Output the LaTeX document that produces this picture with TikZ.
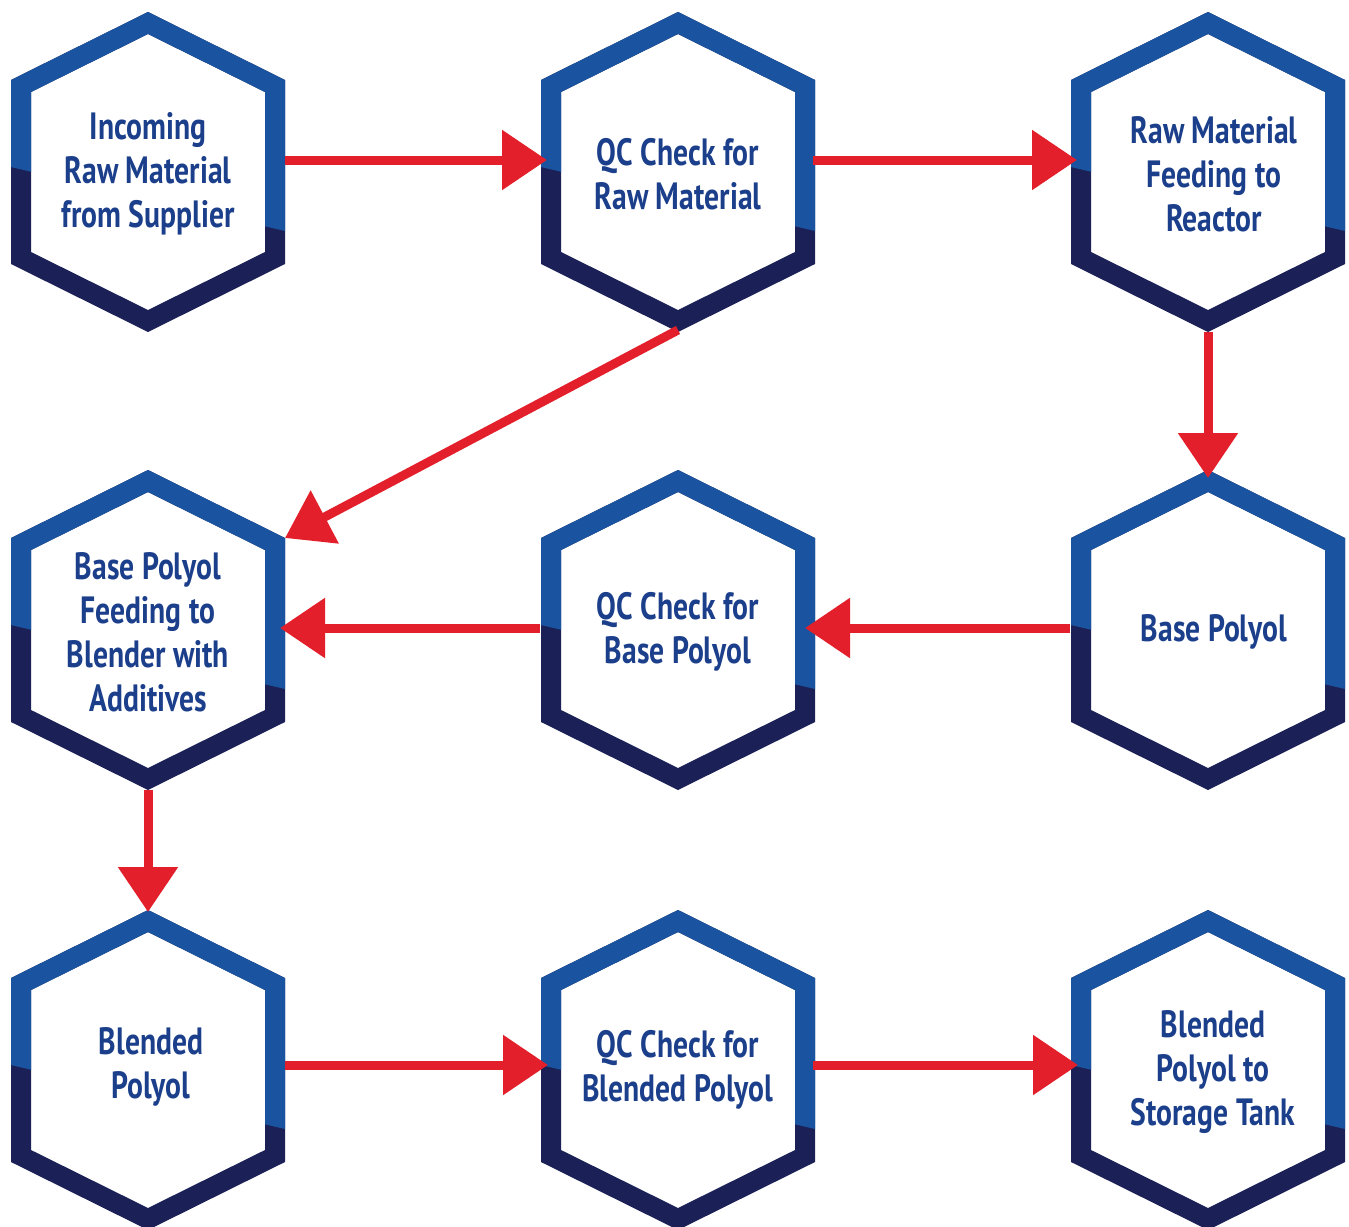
\documentclass[tikz,border=0pt]{standalone}
\usepackage{fontspec}
\usetikzlibrary{arrows.meta,calc}
\newfontfamily\lab[FakeStretch=0.78]{PT Sans}
\definecolor{hexblue}{HTML}{1A54A0}
\definecolor{hexnavy}{HTML}{1B2157}
\definecolor{txtblue}{HTML}{1B3F8B}
\definecolor{arrred}{HTML}{E21F2B}
\newcommand\drawhexagon[2]{%
  \fill[hexnavy,even odd rule]
    (#1,#2-160) -- (#1+137,#2-92) -- (#1+137,#2+92) -- (#1,#2+160) -- (#1-137,#2+92) -- (#1-137,#2-92) -- cycle
    (#1,#2-138) -- (#1+117,#2-80) -- (#1+117,#2+80) -- (#1,#2+138) -- (#1-117,#2+80) -- (#1-117,#2-80) -- cycle;
  \begin{scope}
    \clip (#1-150,#2-175) -- (#1+150,#2-175) -- (#1+150,#2+62) -- (#1-150,#2-8) -- cycle;
    \fill[hexblue,even odd rule]
      (#1,#2-160) -- (#1+137,#2-92) -- (#1+137,#2+92) -- (#1,#2+160) -- (#1-137,#2+92) -- (#1-137,#2-92) -- cycle
      (#1,#2-138) -- (#1+117,#2-80) -- (#1+117,#2+80) -- (#1,#2+138) -- (#1-117,#2+80) -- (#1-117,#2-80) -- cycle;
  \end{scope}
}
\tikzset{
  lbl/.style={align=center,text=txtblue,font=\lab\bfseries\fontsize{38}{44}\selectfont,inner sep=0pt},
  arr/.style={draw=arrred,line width=9pt,-{Triangle[length=45pt,width=58pt]}}
}
\begin{document}
\begin{tikzpicture}[x=1pt,y=-1pt]
\useasboundingbox[fill=white] (0,0) rectangle (1349,1226);
\drawhexagon{148}{172}
\drawhexagon{678}{172}
\drawhexagon{1208}{172}
\drawhexagon{148}{630}
\drawhexagon{678}{630}
\drawhexagon{1208}{630}
\drawhexagon{148}{1070}
\drawhexagon{678}{1070}
\drawhexagon{1208}{1070}
\node[lbl] (h1) at (148,174) {Incoming\\Raw Material\\from Supplier};
\node[lbl] (h2) at (678,174) {QC Check for\\Raw Material};
\node[lbl] (h3) at (1214,174) {Raw Material\\Feeding to\\Reactor};
\node[lbl] (h4) at (148,632) {Base Polyol\\Feeding to\\Blender with\\Additives};
\node[lbl] (h5) at (678,632) {QC Check for\\Base Polyol};
\node[lbl] (h6) at (1214,632) {Base Polyol};
\node[lbl] (h7) at (151,1067) {Blended\\Polyol};
\node[lbl] (h8) at (678,1070) {QC Check for\\Blended Polyol};
\node[lbl] (h9) at (1213,1072) {Blended\\Polyol to\\Storage Tank};
\draw[arr] ($(h1)+(137,-14)$) -- ($(h2)+(-131,-14)$);
\draw[arr] ($(h2)+(135,-14)$) -- ($(h3)+(-137,-14)$);
\draw[arr] ($(h3)+(-6,158)$) -- ($(h6)+(-6,-154)$);
\draw[arr] ($(h2)+(0,156)$) -- ($(h4)+(137,-94)$);
\draw[arr] ($(h6)+(-144,-4)$) -- ($(h5)+(127,-4)$);
\draw[arr] ($(h5)+(-138,-4)$) -- ($(h4)+(132,-4)$);
\draw[arr] ($(h4)+(0,158)$) -- ($(h7)+(-3,-155)$);
\draw[arr] ($(h7)+(134,-2)$) -- ($(h8)+(-130,-5)$);
\draw[arr] ($(h8)+(135,-5)$) -- ($(h9)+(-135,-7)$);
\end{tikzpicture}
\end{document}
